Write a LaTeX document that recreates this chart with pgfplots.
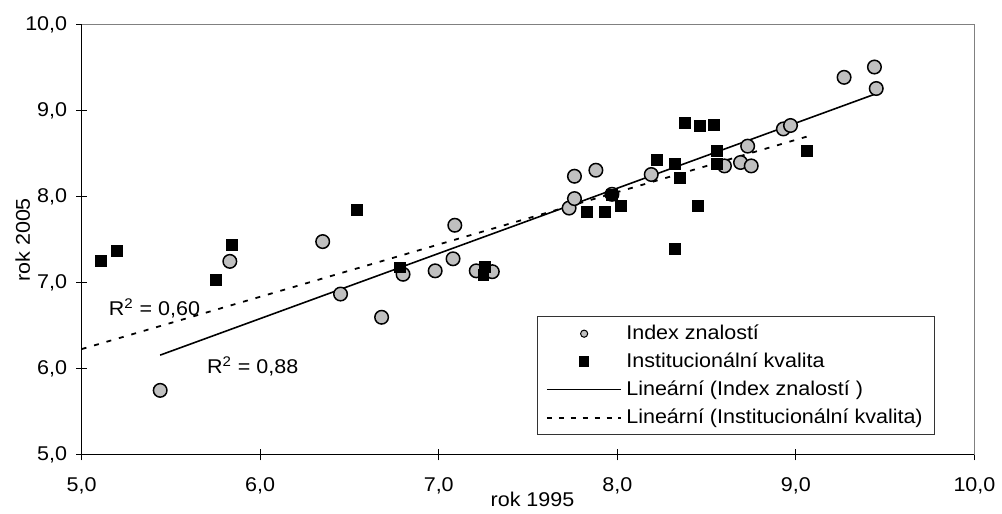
\documentclass[border=0pt]{standalone}
\usepackage{pgfplots}
\pgfplotsset{compat=1.18}
\usepackage{fontspec}
\setmainfont[FakeStretch=1.08]{Liberation Sans}

\definecolor{circfill}{RGB}{192,192,192}
\pgfplotsset{
  markleg/.style={legend image code/.code={\draw[##1] plot coordinates {(18.75pt,0pt)};}},
}

\begin{document}
\begin{tikzpicture}[font=\fontsize{10pt}{12pt}\selectfont]
\begin{axis}[
    name=ax,
    scale only axis,
    width=448.5pt, height=216pt,
    xmin=5, xmax=10, ymin=5, ymax=10,
    xtick={5,6,...,10}, ytick={5,6,...,10},
    xtick pos=bottom, ytick pos=left,
    tick align=center,
    major tick length=5.5pt,
    tick style={black, line width=0.5pt},
    axis line style={draw=none},
    /pgf/number format/.cd, use comma, fixed, fixed zerofill, precision=1, assume math mode=true,
    /pgfplots/.cd,
    xticklabel style={yshift=-5pt},
    yticklabel style={xshift=-1pt},
    clip=false,
    legend style={
        at={(axis description cs:0.956,0.322)}, anchor=north east,
        draw=black!80, line width=0.5pt,
        font=\fontsize{10pt}{12pt}\selectfont,
        row sep=1.2pt, inner xsep=4pt, inner ysep=2pt,
        cells={anchor=west},
    },
    legend image code/.code={\draw[#1] (0pt,0pt) -- (37.5pt,0pt);},
]
\draw[gray, line width=0.6pt] (rel axis cs:0,1) -- (rel axis cs:1,1) -- (rel axis cs:1,0);
\draw[black, line width=0.6pt] (rel axis cs:0,1) -- (rel axis cs:0,0) -- (rel axis cs:1,0);

% trend lines
\addplot[black, line width=0.8pt, forget plot] coordinates {(5.44,6.16) (9.45,9.20)};
\addplot[black, line width=0.9pt, dash pattern=on 2.5pt off 4pt, forget plot] coordinates {(5.00,6.23) (9.06,8.70)};

% Index znalosti
\addplot[only marks, mark=*, mark size=3.4pt, mark options={fill=circfill, draw=black, line width=0.75pt}, forget plot] table {
X Y
5.44 5.75
5.83 7.25
6.35 7.48
6.45 6.87
6.68 6.60
6.80 7.10
6.98 7.14
7.08 7.28
7.09 7.67
7.21 7.14
7.30 7.13
7.73 7.87
7.76 7.98
7.76 8.24
7.88 8.31
7.97 8.03
8.19 8.26
8.60 8.36
8.69 8.40
8.73 8.59
8.75 8.36
8.93 8.79
8.97 8.83
9.27 9.39
9.44 9.51
9.45 9.26
};

% Institucionalni kvalita
\addplot[only marks, mark=square*, mark size=2.75pt, mark options={fill=black, draw=black}, forget plot] table {
X Y
5.11 7.25
5.20 7.37
5.75 7.03
5.84 7.44
6.54 7.85
6.78 7.18
7.25 7.09
7.26 7.19
7.83 7.83
7.93 7.83
7.97 8.02
8.02 7.90
8.22 8.43
8.32 8.38
8.32 7.39
8.35 8.22
8.38 8.86
8.45 7.90
8.46 8.83
8.54 8.84
8.56 8.54
8.56 8.38
9.06 8.54
};

\addlegendimage{only marks, mark=*, mark size=1.8pt, mark options={fill=circfill, draw=black, line width=0.5pt}, markleg}
\addlegendentry{Index znalostí}
\addlegendimage{only marks, mark=square*, mark size=2.4pt, mark options={fill=black}, markleg}
\addlegendentry{Institucionální kvalita}
\addlegendimage{black, line width=0.8pt}
\addlegendentry{Lineární (Index znalostí )}
\addlegendimage{black, line width=0.9pt, dash pattern=on 2.5pt off 3.5pt}
\addlegendentry{Lineární (Institucionální kvalita)}

\node[anchor=west, inner sep=0pt] at (axis cs:5.15,6.70) {R\textsuperscript{2} = 0,60};
\node[anchor=west, inner sep=0pt] at (axis cs:5.70,6.03) {R\textsuperscript{2} = 0,88};

\node at (axis description cs:0.505,-0.104) {rok 1995};
\node[rotate=90] at (axis description cs:-0.066,0.5) {rok 2005};
\end{axis}
\path ([shift={(-41pt,-27pt)}]ax.south west) rectangle ([shift={(11.5pt,12.5pt)}]ax.north east);
\end{tikzpicture}
\end{document}
